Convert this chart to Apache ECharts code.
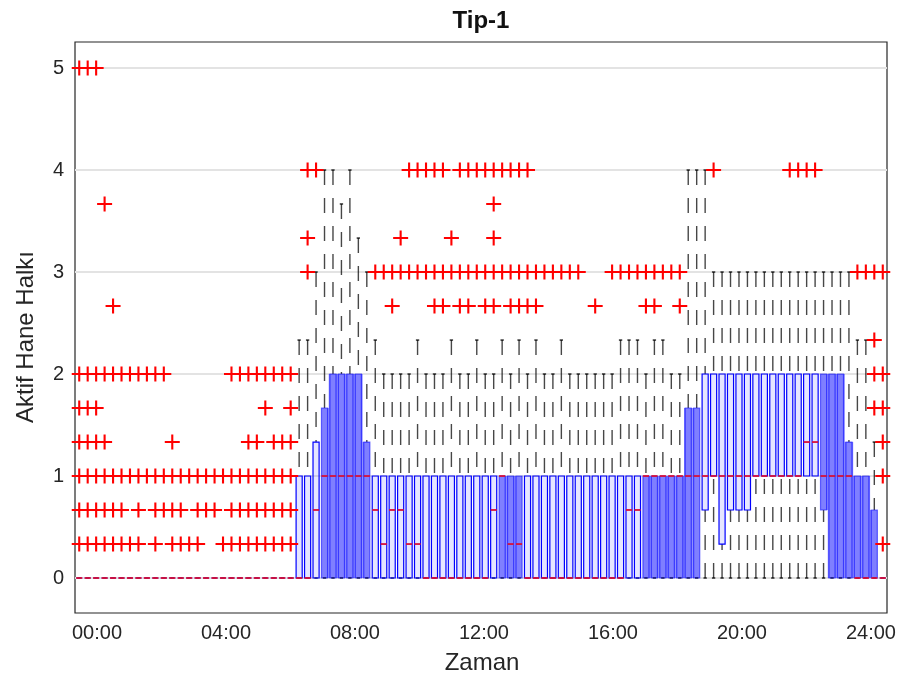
<!DOCTYPE html>
<html><head><meta charset="utf-8">
<script src="https://cdn.jsdelivr.net/npm/echarts@6/dist/echarts.min.js"></script>
<style>html,body{margin:0;padding:0;background:#fff}#c{width:905px;height:686px}</style>
</head><body><div id="c"></div>
<script>
// ---------- DATA ----------
const xTickLabels = ['00:00','04:00','08:00','12:00','16:00','20:00','24:00'];
const xTickPositions = [3.1, 18.35, 33.6, 48.85, 64.1, 79.35, 94.6];
const yTicks = [0, 1, 2, 3, 4, 5];

// box statistics for the 96 quarter-hour boxes (box 1 .. 96)
const whiskerLow = [
  0,0,0,0,0,0,0,0,0,0,0,0,
  0,0,0,0,0,0,0,0,0,0,0,0,
  0,0,0,0,0,0,0,0,0,0,0,0,
  0,0,0,0,0,0,0,0,0,0,0,0,
  0,0,0,0,0,0,0,0,0,0,0,0,
  0,0,0,0,0,0,0,0,0,0,0,0,
  0,0,0,0,0,0,0,0,0,0,0,0,
  0,0,0,0,0,0,0,0,0,0,0,0
];
const q1 = [
  0,0,0,0,0,0,0,0,0,0,0,0,
  0,0,0,0,0,0,0,0,0,0,0,0,
  0,0,0,0,0,0,0,0,0,0,0,0,
  0,0,0,0,0,0,0,0,0,0,0,0,
  0,0,0,0,0,0,0,0,0,0,0,0,
  0,0,0,0,0,0,0,0,0,0,0,0,
  0,0,0.667,1,0.333,0.667,0.667,0.667,1,1,1,1,
  1,1,1,1,0.667,0,0,0,0,0,0,0
];
const median = [
  0,0,0,0,0,0,0,0,0,0,0,0,
  0,0,0,0,0,0,0,0,0,0,0,0,
  0,0,0,0,0.667,1,1,1,1,1,1,0.667,
  0.333,0.667,0.667,0.333,0.333,0,0,0,0,0,0,0,
  0,0.667,1,0.333,0.333,0,0,0,0,0,0,0,
  0,0,0,0,0,0.667,0.667,1,1,1,1,1,
  1,1,1,1,1,1,1,1,1,1,1,1,
  1,1,1.333,1.333,1,1,1,1,0,0,0,0
];
const q3 = [
  0,0,0,0,0,0,0,0,0,0,0,0,
  0,0,0,0,0,0,0,0,0,0,0,0,
  0,0,1,1,1.333,1.667,2,2,2,2,1.333,1,
  1,1,1,1,1,1,1,1,1,1,1,1,
  1,1,1,1,1,1,1,1,1,1,1,1,
  1,1,1,1,1,1,1,1,1,1,1,1,
  1.667,1.667,2,2,2,2,2,2,2,2,2,2,
  2,2,2,2,2,2,2,1.333,1,1,0.667,0
];
const whiskerHigh = [
  0,0,0,0,0,0,0,0,0,0,0,0,
  0,0,0,0,0,0,0,0,0,0,0,0,
  0,0,2.333,2.333,3,4,4,3.667,4,3.333,3,2.333,
  2,2,2,2,2.333,2,2,2,2.333,2,2,2.333,
  2,2,2.333,2,2.333,2,2.333,2,2,2.333,2,2,
  2,2,2,2,2.333,2.333,2.333,2,2.333,2.333,2,2,
  4,4,4,3,3,3,3,3,3,3,3,3,
  3,3,3,3,3,3,3,3,2.333,2.333,1.333,0
];
// boxes drawn with a solid blue fill
const filledBoxes = [30,31,32,33,34,35,51,52,53,68,69,70,71,72,73,74,89,90,91,92,93,94,95];

// outliers: value -> box indices
const outlierRows = [
  { value: 5,     boxes: [1,2,3] },
  { value: 4,     boxes: [28,29,40,41,42,43,44,46,47,48,49,50,51,52,53,54,76,85,86,87,88] },
  { value: 3.667, boxes: [4,50] },
  { value: 3.333, boxes: [28,39,45,50] },
  { value: 3,     boxes: [28,36,37,38,39,40,41,42,43,44,45,46,47,48,49,50,51,52,53,54,55,56,57,58,59,60,64,65,66,67,68,69,70,71,72,93,94,95,96] },
  { value: 2.667, boxes: [5,38,43,44,46,47,49,50,52,53,54,55,62,68,69,72] },
  { value: 2.333, boxes: [95] },
  { value: 2,     boxes: [1,2,3,4,5,6,7,8,9,10,11,19,20,21,22,23,24,25,26,95,96] },
  { value: 1.667, boxes: [1,2,3,23,26,95,96] },
  { value: 1.333, boxes: [1,2,3,4,12,21,22,24,25,26,96] },
  { value: 1,     boxes: [1,2,3,4,5,6,7,8,9,10,11,12,13,14,15,16,17,18,19,20,21,22,23,24,25,26,96] },
  { value: 0.667, boxes: [1,2,3,4,5,6,8,10,11,12,13,15,16,17,19,20,21,22,23,24,25,26] },
  { value: 0.333, boxes: [1,2,3,4,5,6,7,8,10,12,13,14,15,18,19,20,21,22,23,24,25,26,96] }
];

// ---------- BUILD ----------
const nBoxes = q3.length;
const filledSet = new Set(filledBoxes);
const boxData = [];
for (let k = 0; k < nBoxes; k++) {
  const i = k + 1;
  boxData.push([i, whiskerLow[k], q1[k], median[k], q3[k], whiskerHigh[k],
    filledSet.has(i) ? 1 : 0, filledSet.has(i - 1) ? 1 : 0, filledSet.has(i + 1) ? 1 : 0]);
}
const outlierData = [];
outlierRows.forEach(r => r.boxes.forEach(b => outlierData.push([b, r.value])));

const FONT = '"Liberation Sans", Arial, Helvetica, sans-serif';
const AX = '#262626';
const X_MIN = 0.5, X_MAX = 96.5;

const chart = echarts.init(document.getElementById('c'), null, { renderer: 'canvas' });
chart.setOption({
  animation: false,
  backgroundColor: '#fff',
  grid: { left: 75, right: 18, top: 42, bottom: 73, show: true, borderColor: AX, borderWidth: 1.2, backgroundColor: '#fff' },
  xAxis: {
    type: 'value', min: X_MIN, max: X_MAX,
    axisLine: { show: false }, splitLine: { show: false }, axisTick: { show: false },
    axisLabel: {
      customValues: xTickPositions, color: AX, fontSize: 20, fontFamily: FONT, margin: 10,
      formatter: v => { const k = xTickPositions.findIndex(p => Math.abs(p - v) < 1e-6); return k >= 0 ? xTickLabels[k] : ''; }
    }
  },
  yAxis: [
    { type: 'value', min: -0.343, max: 5.255, position: 'left',
      axisLine: { show: false }, splitLine: { show: false },
      axisTick: { show: true, inside: true, length: 7, customValues: yTicks, lineStyle: { color: AX, width: 1.5 } },
      axisLabel: { customValues: yTicks, color: AX, fontSize: 20, fontFamily: FONT, margin: 11 } },
    { type: 'value', min: -0.343, max: 5.255, position: 'right',
      axisLine: { show: false }, splitLine: { show: false },
      axisTick: { show: true, inside: true, length: 7, customValues: yTicks, lineStyle: { color: AX, width: 1.5 } },
      axisLabel: { show: false } }
  ],
  graphic: [
    { type: 'text', x: 481, y: 21, style: { text: 'Tip-1', fill: '#111', fontSize: 24, fontWeight: 'bold', fontFamily: FONT, align: 'center', verticalAlign: 'middle' } },
    { type: 'text', x: 482, y: 663, style: { text: 'Zaman', fill: AX, fontSize: 24, fontFamily: FONT, align: 'center', verticalAlign: 'middle' } },
    { type: 'text', x: 26, y: 337, rotation: Math.PI / 2, style: { text: 'Aktif Hane Halkı', fill: AX, fontSize: 24, fontFamily: FONT, align: 'center', verticalAlign: 'middle' } }
  ],
  series: [
    { type: 'custom', z: 1, silent: true, clip: true,
      encode: { y: 0 },
      data: yTicks.map(v => [v]),
      renderItem: function (params, api) {
        const v = api.value(0);
        const p1 = api.coord([X_MIN, v]), p2 = api.coord([X_MAX, v]);
        return { type: 'line', shape: { x1: p1[0], y1: p1[1], x2: p2[0], y2: p2[1] }, style: { stroke: '#e3e3e3', lineWidth: 2 } };
      } },
    { type: 'custom', z: 2, silent: true,
      encode: { x: 0, y: [1, 2, 3, 4, 5] },
      data: boxData,
      renderItem: function (params, api) {
        const i = api.value(0);
        const cx = api.coord([i, 0])[0];
        const spacing = api.size([1, 0])[0];
        const bw = spacing * 0.72, hw = bw / 2;
        const Y = v => api.coord([i, v])[1];
        const lo = api.value(1), b1 = api.value(2), md = api.value(3), b3 = api.value(4), hi = api.value(5);
        const filled = api.value(6), pf = api.value(7), nf = api.value(8);
        const ch = [];
        if (filled) {
          const gap = (spacing - bw) / 2;
          const l = cx - hw - (pf ? gap : 0), r = cx + hw + (nf ? gap : 0);
          ch.push({ type: 'rect', shape: { x: l, y: Y(b3), width: r - l, height: Y(b1) - Y(b3) }, style: { fill: 'rgba(0,0,255,0.5)' } });
        }
        const ws = { stroke: 'rgba(0,0,0,0.72)', lineWidth: 1.4, lineDash: [15, 13] };
        if (hi > b3) ch.push({ type: 'line', shape: { x1: cx, y1: Y(hi), x2: cx, y2: Y(b3) }, style: ws });
        if (lo < b1) ch.push({ type: 'line', shape: { x1: cx, y1: Y(lo), x2: cx, y2: Y(b1) }, style: ws });
        const cw = hw * 0.55;
        ch.push({ type: 'line', shape: { x1: cx - cw, y1: Y(hi), x2: cx + cw, y2: Y(hi) }, style: { stroke: '#000', lineWidth: 1.2 } });
        ch.push({ type: 'line', shape: { x1: cx - cw, y1: Y(lo), x2: cx + cw, y2: Y(lo) }, style: { stroke: '#000', lineWidth: 1.2 } });
        ch.push({ type: 'rect', shape: { x: cx - hw, y: Y(b3), width: bw, height: Y(b1) - Y(b3) },
          style: { fill: filled ? null : 'rgba(0,0,255,0.10)', stroke: filled ? 'rgba(0,0,255,0.55)' : '#0000ff', lineWidth: 1.2 } });
        ch.push({ type: 'line', shape: { x1: cx - hw, y1: Y(md), x2: cx + hw, y2: Y(md) }, style: { stroke: '#d8103a', lineWidth: 1.8 } });
        return { type: 'group', children: ch };
      } },
    { type: 'scatter', z: 3, silent: true,
      data: outlierData,
      symbol: 'path://M0,4.3H10V5.7H0Z M4.3,0H5.7V10H4.3Z',
      symbolSize: 15,
      itemStyle: { color: '#ff0000', opacity: 1 } }
  ]
});
</script>
</body></html>
